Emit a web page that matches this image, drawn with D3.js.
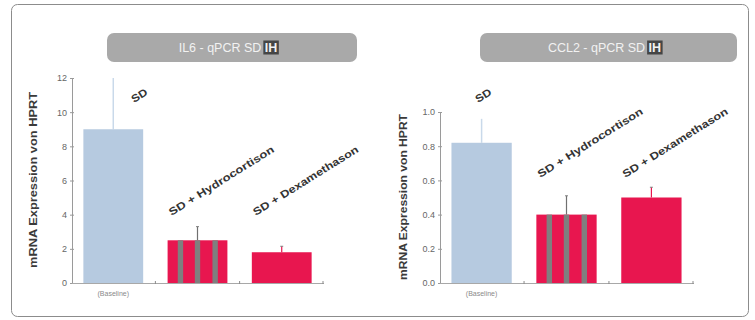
<!DOCTYPE html>
<html>
<head>
<meta charset="utf-8">
<script src="https://cdn.jsdelivr.net/npm/d3@7"></script>
<style>
  html, body { margin: 0; padding: 0; background: #fff; }
  svg { display: block; }
  text { font-family: "Liberation Sans", "DejaVu Sans", sans-serif; }
</style>
</head>
<body>
<svg id="chart" width="755" height="320"></svg>
<script>
// Groups shown in both panels
const categories = ["SD", "SD + Hydrocortison", "SD + Dexamethason"];
const baselineLabel = "(Baseline)";

// IL6 – qPCR, mRNA expression relative to HPRT
const il6Values = [9.0, 2.5, 1.8];
const il6ErrorTop = [12.0, 3.3, 2.15];
const il6Ticks = [0, 2, 4, 6, 8, 10, 12];

// CCL2 – qPCR, mRNA expression relative to HPRT
const ccl2Values = [0.82, 0.40, 0.50];
const ccl2ErrorTop = [0.96, 0.51, 0.56];
const ccl2Ticks = [0.0, 0.2, 0.4, 0.6, 0.8, 1.0];

const yAxisTitle = "mRNA Expression von HPRT";

const svg = d3.select("#chart");

// outer frame
svg.append("rect")
  .attr("x", 11.5).attr("y", 4.5)
  .attr("width", 737).attr("height", 312)
  .attr("rx", 6)
  .attr("fill", "#fff")
  .attr("stroke", "#8c8c8c")
  .attr("stroke-width", 1);

const colors = { base: "#b6cae0", baseErr: "#c9d9ea", red: "#e8164f", stripe: "#7f7f7f" };

const panels = [
  {
    gene: "IL6", values: il6Values, errTop: il6ErrorTop, ticks: il6Ticks,
    domain: [0, 12], fmt: d3.format("d"),
    axisX: 72, xEnd: 323, yTop: 78, yBottom: 283,
    pill: { x: 107, y: 33, w: 250, h: 29 },
    yTitle: { x: 37, y: 180, len: 176 },
    labelY: 216, sdLabel: [134, 103]
  },
  {
    gene: "CCL2", values: ccl2Values, errTop: ccl2ErrorTop, ticks: ccl2Ticks,
    domain: [0, 1.0], fmt: d3.format(".1f"),
    axisX: 440, xEnd: 693, yTop: 112, yBottom: 283,
    pill: { x: 480, y: 33, w: 257, h: 29 },
    yTitle: { x: 407, y: 197, len: 166 },
    labelY: 178, sdLabel: [478, 103]
  }
];

panels.forEach(p => {
  const g = svg.append("g");

  // title pill
  g.append("rect")
    .attr("x", p.pill.x).attr("y", p.pill.y)
    .attr("width", p.pill.w).attr("height", p.pill.h)
    .attr("rx", 7)
    .attr("fill", "#a9a9a9");

  const title = g.append("text")
    .attr("y", p.pill.y + p.pill.h / 2 + 4.5)
    .attr("font-size", 12.5)
    .attr("fill", "#f2f2f2");
  title.append("tspan").text(p.gene + " - qPCR SD ");
  const ih = title.append("tspan").text("IH").attr("font-weight", "bold");
  const tw = title.node().getComputedTextLength();
  const tx = p.pill.x + p.pill.w / 2 - 4 - tw / 2;
  title.attr("x", tx);
  // dark box behind "IH"
  const ihBox = ih.node().getExtentOfChar(0);
  const ihW = ih.node().getComputedTextLength();
  g.insert("rect", "text")
    .attr("x", ihBox.x - 1.5).attr("y", p.pill.y + 7.5)
    .attr("width", ihW + 3).attr("height", 14)
    .attr("fill", "#454545");

  const y = d3.scaleLinear().domain(p.domain).range([p.yBottom, p.yTop]);
  const x = d3.scaleBand().domain(categories)
    .range([p.axisX, p.xEnd])
    .paddingInner(0.29).paddingOuter(0.135);
  const bw = x.bandwidth();

  // y axis
  const ya = g.append("g")
    .attr("transform", `translate(${p.axisX},0)`)
    .call(d3.axisLeft(y).tickValues(p.ticks).tickFormat(p.fmt).tickSize(4).tickSizeOuter(0));
  ya.select(".domain").attr("stroke", "#9a9a9a");
  ya.selectAll(".tick line").attr("stroke", "#9a9a9a").attr("x2", 2).attr("x1", -2);
  ya.selectAll(".tick text")
    .attr("font-family", "Liberation Sans, sans-serif")
    .attr("font-size", 9).attr("fill", "#666").attr("x", -5);

  // y axis title
  g.append("text")
    .attr("transform", `translate(${p.yTitle.x},${p.yTitle.y}) rotate(-90)`)
    .attr("text-anchor", "middle")
    .attr("font-size", 10).attr("font-weight", "bold")
    .attr("fill", "#3a3a3a")
    .attr("textLength", p.yTitle.len).attr("lengthAdjust", "spacingAndGlyphs")
    .text(yAxisTitle);

  // x axis line with small tick marks between groups
  g.append("line")
    .attr("x1", p.axisX).attr("x2", p.xEnd + 1)
    .attr("y1", y(0) + 0.5).attr("y2", y(0) + 0.5)
    .attr("stroke", "#a8a8a8");
  const sepX = categories.map((c, i) => i < categories.length - 1
    ? (x(c) + bw + x(categories[i + 1])) / 2 : p.xEnd);
  g.selectAll(".sep").data(sepX).join("line")
    .attr("x1", d => d).attr("x2", d => d)
    .attr("y1", y(0) - 2).attr("y2", y(0) + 1)
    .attr("stroke", "#8a8a8a");

  // error lines (drawn first so bars sit on top)
  g.selectAll(".err").data(categories).join("line")
    .attr("x1", d => x(d) + bw / 2).attr("x2", d => x(d) + bw / 2)
    .attr("y1", (d, i) => y(p.values[i]))
    .attr("y2", (d, i) => y(p.errTop[i]))
    .attr("stroke", (d, i) => i === 0 ? colors.baseErr : i === 1 ? "#707070" : colors.red)
    .attr("stroke-width", (d, i) => i === 0 ? 1.5 : 1.2);
  // small caps on the treated groups
  g.selectAll(".cap").data(categories.slice(1)).join("line")
    .attr("x1", d => x(d) + bw / 2 - 1.5).attr("x2", d => x(d) + bw / 2 + 1.5)
    .attr("y1", (d, i) => y(p.errTop[i + 1])).attr("y2", (d, i) => y(p.errTop[i + 1]))
    .attr("stroke", "#808080").attr("stroke-width", 1);

  // bars
  g.selectAll(".bar").data(categories).join("rect")
    .attr("x", d => x(d)).attr("width", bw)
    .attr("y", (d, i) => y(p.values[i]))
    .attr("height", (d, i) => y(0) - y(p.values[i]))
    .attr("fill", (d, i) => i === 0 ? colors.base : colors.red);

  // grey stripes on the hydrocortison bar
  const hc = categories[1];
  g.selectAll(".stripe").data([0.17, 0.455, 0.75]).join("rect")
    .attr("x", f => x(hc) + bw * f).attr("width", bw * 0.09)
    .attr("y", y(p.values[1])).attr("height", y(0) - y(p.values[1]))
    .attr("fill", colors.stripe);

  // rotated group labels
  g.selectAll(".glabel").data(categories).join("text")
    .attr("transform", (d, i) => {
      const pos = i === 0 ? p.sdLabel : [x(d) + 4, p.labelY];
      return `translate(${pos[0]},${pos[1]}) rotate(-32)`;
    })
    .attr("font-size", 10.5).attr("font-weight", "bold")
    .attr("fill", "#333")
    .attr("textLength", (d, i) => i === 0 ? 17 : 122)
    .attr("lengthAdjust", "spacingAndGlyphs")
    .text(d => d);

  // baseline caption under the first bar
  g.append("text")
    .attr("x", x(categories[0]) + bw / 2).attr("y", y(0) + 13)
    .attr("text-anchor", "middle")
    .attr("font-size", 7).attr("fill", "#8a8a8a")
    .text(baselineLabel);
});
</script>
</body>
</html>
